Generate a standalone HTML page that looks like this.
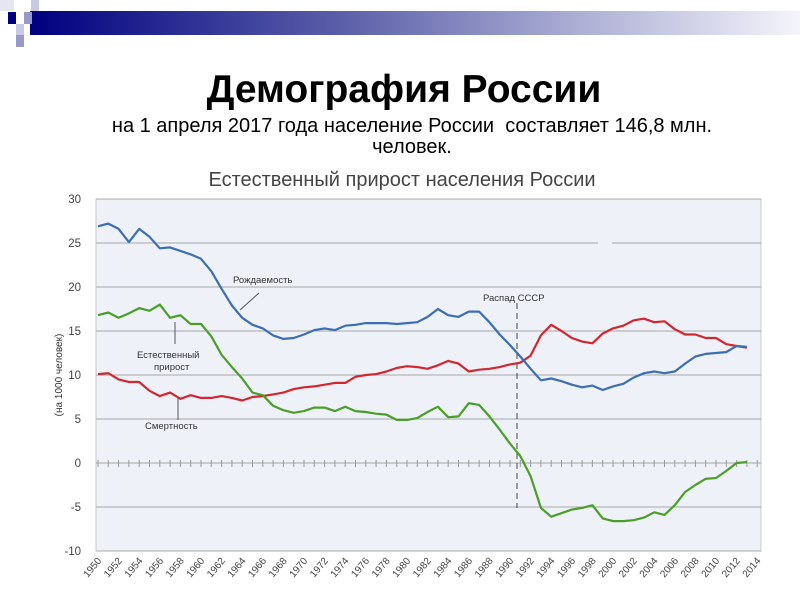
<!DOCTYPE html>
<html><head><meta charset="utf-8"><style>
body{margin:0;width:800px;height:600px;background:#fff;overflow:hidden;font-family:"Liberation Sans",sans-serif;position:relative}
.t{position:absolute;left:0;width:800px;text-align:center}
</style></head><body>
<div style="position:absolute;left:30px;top:11px;width:770px;height:24px;background:linear-gradient(to right,#000080,#5a5ea8 40%,#a9abd2 70%,#f4f4fa)"></div>
<div style="position:absolute;left:0;top:0;width:14px;height:11px;background:#e6e6f2"></div>
<div style="position:absolute;left:31px;top:0;width:8px;height:11px;background:#c8c9e2"></div>
<div style="position:absolute;left:8px;top:12px;width:8px;height:12px;background:#000080"></div>
<div style="position:absolute;left:24px;top:12px;width:8px;height:12px;background:#9899c8"></div>
<div style="position:absolute;left:16px;top:24px;width:8px;height:11px;background:#c8c9e2"></div>
<div style="position:absolute;left:16px;top:35px;width:8px;height:12px;background:#9899c8"></div>
<div class="t" style="top:68px;font-size:39px;font-weight:bold;color:#000;left:4px">Демография России</div>
<div class="t" style="top:116px;font-size:20px;line-height:21px;color:#000;left:12px">на 1 апреля 2017 года население России&nbsp; составляет 146,8 млн.<br>человек.</div>
<div class="t" style="top:169px;font-size:20px;color:#444;left:2px">Естественный прирост населения России</div>
<svg id="s" width="800" height="600" style="position:absolute;left:0;top:0" font-family="Liberation Sans, sans-serif"></svg>
<script>
var B=[26.9,27.2,26.6,25.1,26.6,25.7,24.4,24.5,24.1,23.7,23.2,21.8,19.8,17.9,16.5,15.7,15.3,14.5,14.1,14.2,14.6,15.1,15.3,15.1,15.6,15.7,15.9,15.9,15.9,15.8,15.9,16.0,16.6,17.5,16.8,16.6,17.2,17.2,16.0,14.6,13.4,12.1,10.7,9.4,9.6,9.3,8.9,8.6,8.8,8.3,8.7,9.0,9.7,10.2,10.4,10.2,10.4,11.3,12.1,12.4,12.5,12.6,13.3,13.2];
var D=[10.1,10.2,9.5,9.2,9.2,8.2,7.6,8.0,7.3,7.7,7.4,7.4,7.6,7.4,7.1,7.5,7.6,7.8,8.0,8.4,8.6,8.7,8.9,9.1,9.1,9.8,10.0,10.1,10.4,10.8,11.0,10.9,10.7,11.1,11.6,11.3,10.4,10.6,10.7,10.9,11.2,11.4,12.2,14.5,15.7,15.0,14.2,13.8,13.6,14.7,15.3,15.6,16.2,16.4,16.0,16.1,15.2,14.6,14.6,14.2,14.2,13.5,13.3,13.1];
var N=[16.8,17.1,16.5,17.0,17.6,17.3,18.0,16.5,16.8,15.8,15.8,14.4,12.3,10.9,9.6,8.0,7.7,6.5,6.0,5.7,5.9,6.3,6.3,5.9,6.4,5.9,5.8,5.6,5.5,4.9,4.9,5.1,5.8,6.4,5.2,5.3,6.8,6.6,5.3,3.8,2.2,0.8,-1.5,-5.1,-6.1,-5.7,-5.3,-5.1,-4.8,-6.3,-6.6,-6.6,-6.5,-6.2,-5.6,-5.9,-4.8,-3.3,-2.5,-1.8,-1.7,-0.9,0.0,0.1];
function X(i){return 98+i*10.3}function Y(v){return 463-v*8.8}
var h='<rect x="96" y="199" width="665" height="352" fill="#eef1f7" stroke="#c8c8c8"/>';
for(var v=-10;v<=30;v+=5){h+='<line x1="96" x2="761" y1="'+Y(v)+'" y2="'+Y(v)+'" stroke="#a8a8a8"/>';h+='<text x="81" y="'+(Y(v)+4)+'" font-size="11.5" text-anchor="end" fill="#444">'+v+'</text>';}
h+='<line x1="598" x2="612" y1="'+Y(25)+'" y2="'+Y(25)+'" stroke="#eef1f7" stroke-width="3"/>';
for(var i=0;i<=64;i++){h+='<line x1="'+X(i)+'" x2="'+X(i)+'" y1="460" y2="467" stroke="#999"/>';
if(i%2==0)h+='<text transform="translate('+(X(i)+4)+',561) rotate(-50)" font-size="10" text-anchor="end" fill="#444">'+(1950+i)+'</text>';}
h+='<line x1="517" x2="517" y1="303" y2="508" stroke="#444" stroke-dasharray="6,4"/>';
function P(a,c){var d='';a.forEach(function(v,i){d+=(i?'L':'M')+X(i).toFixed(1)+','+Y(v).toFixed(1)});return '<path d="'+d+'" fill="none" stroke="'+c+'" stroke-width="2.2" stroke-linejoin="round"/>';}
h+=P(D,'#d22630')+P(B,'#3d6eb4')+P(N,'#4a9e2a');
h+='<line x1="259" x2="240" y1="293" y2="310" stroke="#555"/><line x1="175" x2="175" y1="322" y2="344" stroke="#555"/><line x1="178" x2="178" y1="398" y2="420" stroke="#555"/>';
h+='<text x="233" y="283" font-size="9.5" fill="#333">Рождаемость</text>';
h+='<text x="137" y="358" font-size="9.5" fill="#333">Естественный</text><text x="154" y="370" font-size="9.5" fill="#333">прирост</text>';
h+='<text x="145" y="429" font-size="9.5" fill="#333">Смертность</text>';
h+='<text x="483" y="301" font-size="9.5" fill="#333">Распад СССР</text>';
h+='<text transform="translate(62,375) rotate(-90)" font-size="10" text-anchor="middle" fill="#333">(на 1000 человек)</text>';
document.getElementById('s').innerHTML=h;
</script>
</body></html>
